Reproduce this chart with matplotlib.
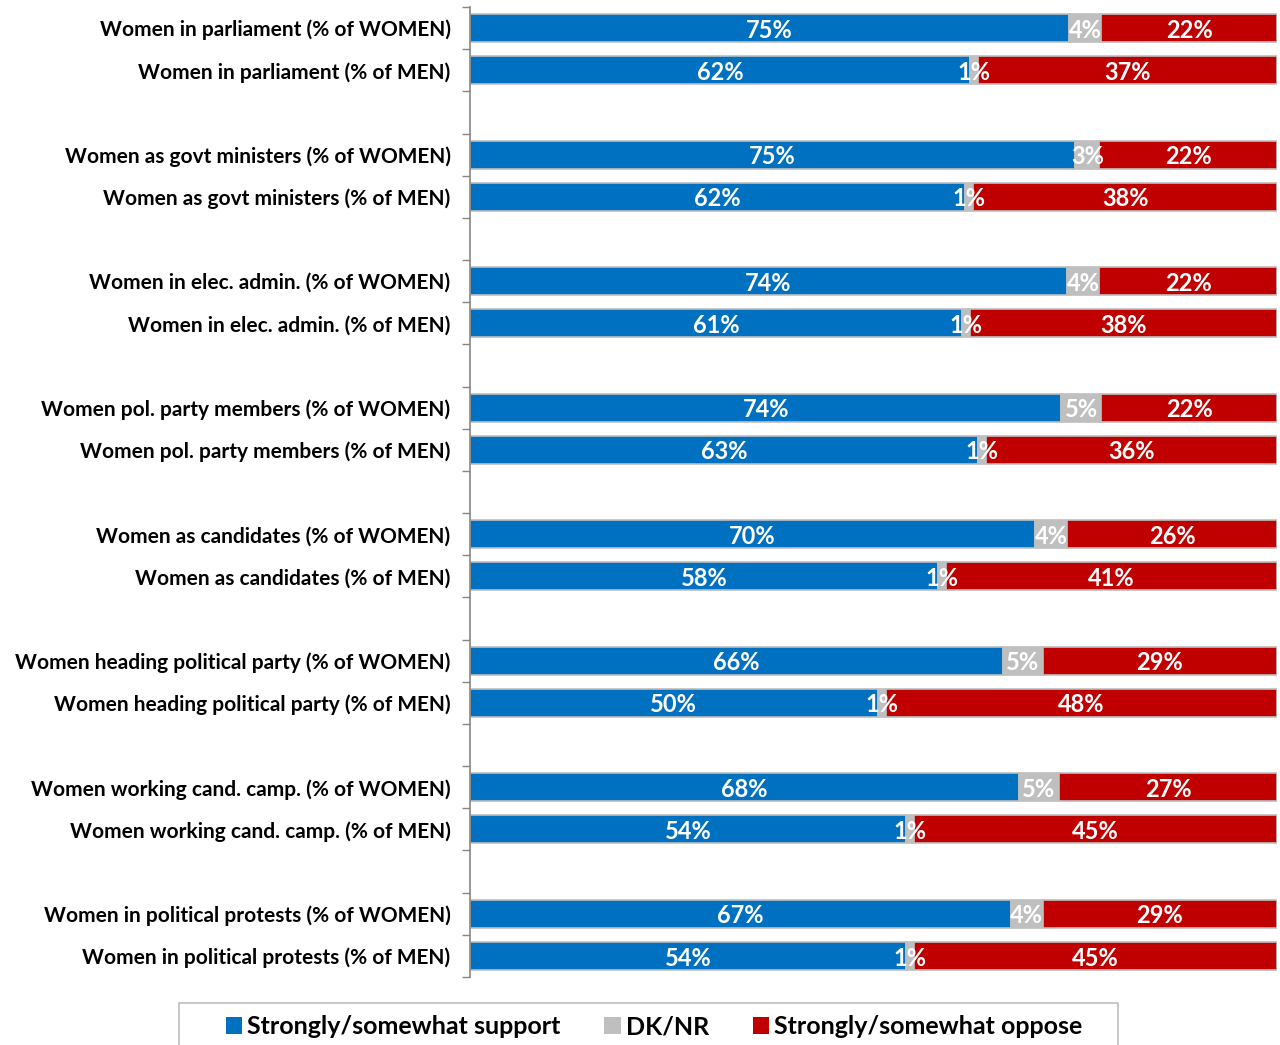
import matplotlib
matplotlib.use("Agg")
import matplotlib.pyplot as plt
from matplotlib.patches import Rectangle
import numpy as np

plt.rcParams['font.family'] = ['Lato', 'DejaVu Sans']

categories = [
    "Women in parliament (% of WOMEN)",
    "Women in parliament (% of MEN)",
    "Women as govt ministers (% of WOMEN)",
    "Women as govt ministers (% of MEN)",
    "Women in elec. admin. (% of WOMEN)",
    "Women in elec. admin. (% of MEN)",
    "Women pol. party members (% of WOMEN)",
    "Women pol. party members (% of MEN)",
    "Women as candidates (% of WOMEN)",
    "Women as candidates (% of MEN)",
    "Women heading political party (% of WOMEN)",
    "Women heading political party (% of MEN)",
    "Women working cand. camp. (% of WOMEN)",
    "Women working cand. camp. (% of MEN)",
    "Women in political protests (% of WOMEN)",
    "Women in political protests (% of MEN)",
]
support = [75, 62, 75, 62, 74, 61, 74, 63, 70, 58, 66, 50, 68, 54, 67, 54]
dknr    = [4, 1, 3, 1, 4, 1, 5, 1, 4, 1, 5, 1, 5, 1, 4, 1]
oppose  = [22, 37, 22, 38, 22, 38, 22, 36, 26, 41, 29, 48, 27, 45, 29, 45]
series_names = ["Strongly/somewhat support", "DK/NR", "Strongly/somewhat oppose"]
colors = ["#0070C0", "#BFBFBF", "#C00000"]

W, H = 1280, 1045
fig = plt.figure(figsize=(W / 100, H / 100), dpi=100)
ax = fig.add_axes([470 / W, 1 - 977 / H, 807 / W, 970 / H])

n = len(categories)
pos = np.array([(i // 2) * 3 + (i % 2) for i in range(n)], dtype=float)
vals = np.array([support, dknr, oppose], dtype=float)
tot = vals.sum(axis=0)
frac = vals / tot

left = np.zeros(n)
for k in range(3):
    ax.barh(pos, frac[k], left=left, height=0.66, color=colors[k],
            edgecolor="#BFBFBF", linewidth=1.2, label=series_names[k], zorder=2)
    for i in range(n):
        ax.text(left[i] + frac[k][i] / 2, pos[i] + 0.05, f"{int(vals[k][i])}%",
                ha="center", va="center", color="white", fontsize=17,
                fontweight="bold", zorder=3)
    left = left + frac[k]

ax.set_xlim(0, 1)
ax.set_ylim(22.5, -0.5)
ax.set_xticks([])
ax.set_yticks(pos)
ax.set_yticklabels(categories, fontsize=15, fontweight="bold")
ax.tick_params(axis="y", which="major", length=0, pad=14)
ax.set_yticks(np.arange(-0.5, 23, 1.0), minor=True)
ax.tick_params(axis="y", which="minor", length=6, color="#868686", width=1)
for s in ["top", "right", "bottom"]:
    ax.spines[s].set_visible(False)
ax.spines["left"].set_color("#868686")
ax.spines["left"].set_linewidth(1.2)

# legend frame box
fig.patches.append(Rectangle((179 / W, -0.01), (1118 - 179) / W, (H - 1003) / H + 0.01,
                             transform=fig.transFigure, facecolor="white",
                             edgecolor="#BFBFBF", linewidth=1.2, zorder=0))

handles, labels = ax.get_legend_handles_labels()
leg = fig.legend(handles, labels, loc="center", bbox_to_anchor=(654 / W, 1 - 1027 / H),
                 ncol=3, frameon=False,
                 prop={"size": 18, "weight": "bold"},
                 handlelength=0.65, handleheight=0.65, handletextpad=0.2,
                 columnspacing=1.75, borderpad=0, borderaxespad=0)
for h in leg.legend_handles:
    h.set_edgecolor("none")

fig.savefig("out.png", dpi=100)
